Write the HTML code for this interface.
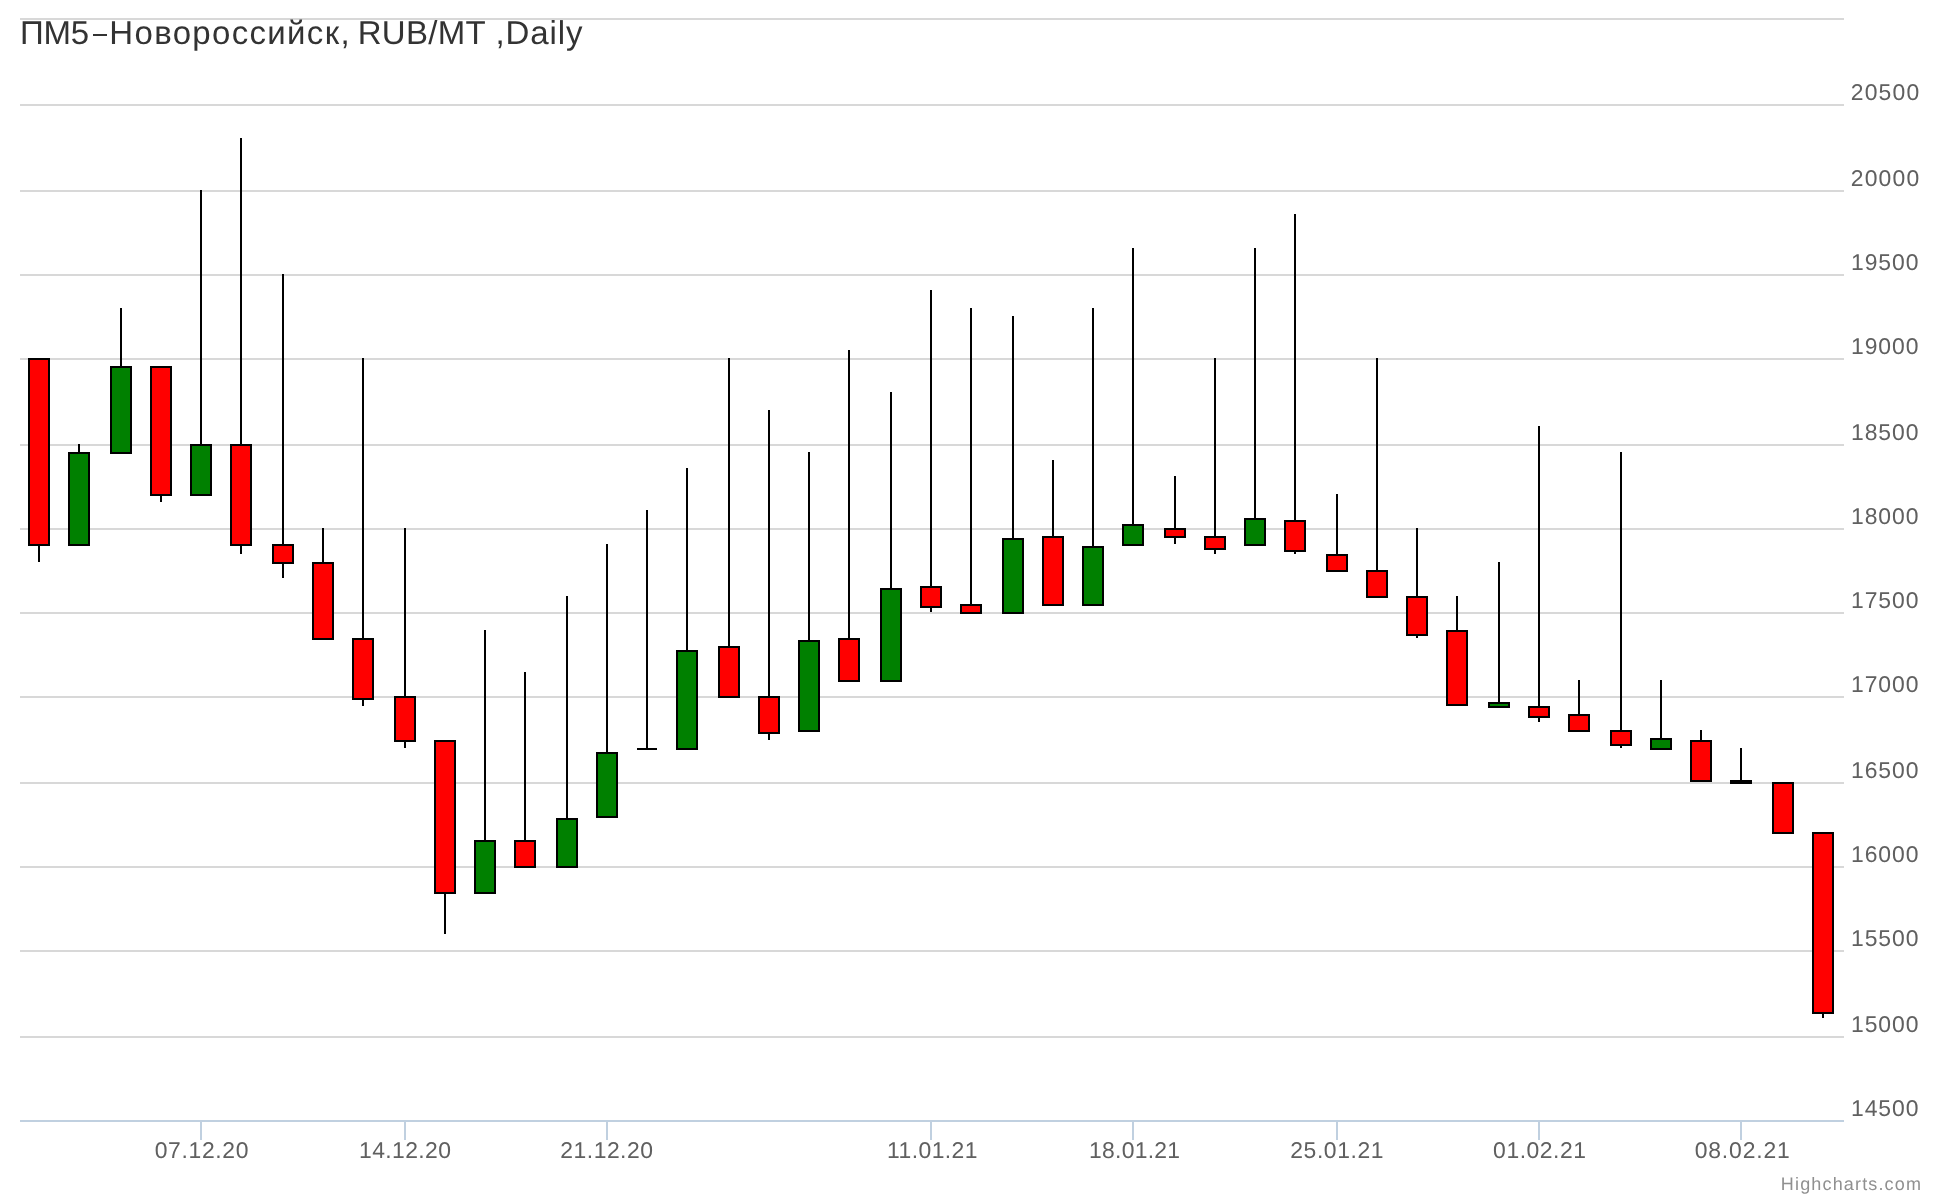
<!DOCTYPE html>
<html><head><meta charset="utf-8"><title>ПМ5-Новороссийск, RUB/MT ,Daily</title>
<style>
html,body{margin:0;padding:0;background:#fff;width:1940px;height:1200px;overflow:hidden}
svg{display:block}
text{font-family:"Liberation Sans",sans-serif;text-rendering:geometricPrecision}
</style></head><body>
<svg width="1940" height="1200" viewBox="0 0 1940 1200" shape-rendering="crispEdges">
<rect x="0" y="0" width="1940" height="1200" fill="#ffffff"/>
<rect x="20" y="18" width="1824" height="2" fill="#d8d8d8"/>
<rect x="20" y="104" width="1824" height="2" fill="#d8d8d8"/>
<rect x="20" y="190" width="1824" height="2" fill="#d8d8d8"/>
<rect x="20" y="274" width="1824" height="2" fill="#d8d8d8"/>
<rect x="20" y="358" width="1824" height="2" fill="#d8d8d8"/>
<rect x="20" y="444" width="1824" height="2" fill="#d8d8d8"/>
<rect x="20" y="528" width="1824" height="2" fill="#d8d8d8"/>
<rect x="20" y="612" width="1824" height="2" fill="#d8d8d8"/>
<rect x="20" y="696" width="1824" height="2" fill="#d8d8d8"/>
<rect x="20" y="782" width="1824" height="2" fill="#d8d8d8"/>
<rect x="20" y="866" width="1824" height="2" fill="#d8d8d8"/>
<rect x="20" y="950" width="1824" height="2" fill="#d8d8d8"/>
<rect x="20" y="1036" width="1824" height="2" fill="#d8d8d8"/>
<rect x="20" y="1120" width="1824" height="2" fill="#c0d0e0"/>
<rect x="200" y="1122" width="2" height="18" fill="#c0d0e0"/>
<rect x="404" y="1122" width="2" height="18" fill="#c0d0e0"/>
<rect x="606" y="1122" width="2" height="18" fill="#c0d0e0"/>
<rect x="930" y="1122" width="2" height="18" fill="#c0d0e0"/>
<rect x="1132" y="1122" width="2" height="18" fill="#c0d0e0"/>
<rect x="1336" y="1122" width="2" height="18" fill="#c0d0e0"/>
<rect x="1538" y="1122" width="2" height="18" fill="#c0d0e0"/>
<rect x="1740" y="1122" width="2" height="18" fill="#c0d0e0"/>
<rect x="38" y="358" width="2" height="204" fill="#000"/><rect x="28" y="358" width="22" height="188" fill="#000"/><rect x="30" y="360" width="18" height="184" fill="#ff0000"/>
<rect x="78" y="444" width="2" height="102" fill="#000"/><rect x="68" y="452" width="22" height="94" fill="#000"/><rect x="70" y="454" width="18" height="90" fill="#008000"/>
<rect x="120" y="308" width="2" height="146" fill="#000"/><rect x="110" y="366" width="22" height="88" fill="#000"/><rect x="112" y="368" width="18" height="84" fill="#008000"/>
<rect x="160" y="366" width="2" height="136" fill="#000"/><rect x="150" y="366" width="22" height="130" fill="#000"/><rect x="152" y="368" width="18" height="126" fill="#ff0000"/>
<rect x="200" y="190" width="2" height="306" fill="#000"/><rect x="190" y="444" width="22" height="52" fill="#000"/><rect x="192" y="446" width="18" height="48" fill="#008000"/>
<rect x="240" y="138" width="2" height="416" fill="#000"/><rect x="230" y="444" width="22" height="102" fill="#000"/><rect x="232" y="446" width="18" height="98" fill="#ff0000"/>
<rect x="282" y="274" width="2" height="304" fill="#000"/><rect x="272" y="544" width="22" height="20" fill="#000"/><rect x="274" y="546" width="18" height="16" fill="#ff0000"/>
<rect x="322" y="528" width="2" height="112" fill="#000"/><rect x="312" y="562" width="22" height="78" fill="#000"/><rect x="314" y="564" width="18" height="74" fill="#ff0000"/>
<rect x="362" y="358" width="2" height="348" fill="#000"/><rect x="352" y="638" width="22" height="62" fill="#000"/><rect x="354" y="640" width="18" height="58" fill="#ff0000"/>
<rect x="404" y="528" width="2" height="220" fill="#000"/><rect x="394" y="696" width="22" height="46" fill="#000"/><rect x="396" y="698" width="18" height="42" fill="#ff0000"/>
<rect x="444" y="740" width="2" height="194" fill="#000"/><rect x="434" y="740" width="22" height="154" fill="#000"/><rect x="436" y="742" width="18" height="150" fill="#ff0000"/>
<rect x="484" y="630" width="2" height="264" fill="#000"/><rect x="474" y="840" width="22" height="54" fill="#000"/><rect x="476" y="842" width="18" height="50" fill="#008000"/>
<rect x="524" y="672" width="2" height="196" fill="#000"/><rect x="514" y="840" width="22" height="28" fill="#000"/><rect x="516" y="842" width="18" height="24" fill="#ff0000"/>
<rect x="566" y="596" width="2" height="272" fill="#000"/><rect x="556" y="818" width="22" height="50" fill="#000"/><rect x="558" y="820" width="18" height="46" fill="#008000"/>
<rect x="606" y="544" width="2" height="274" fill="#000"/><rect x="596" y="752" width="22" height="66" fill="#000"/><rect x="598" y="754" width="18" height="62" fill="#008000"/>
<rect x="646" y="510" width="2" height="240" fill="#000"/><rect x="637" y="748" width="20" height="2" fill="#000"/>
<rect x="686" y="468" width="2" height="282" fill="#000"/><rect x="676" y="650" width="22" height="100" fill="#000"/><rect x="678" y="652" width="18" height="96" fill="#008000"/>
<rect x="728" y="358" width="2" height="340" fill="#000"/><rect x="718" y="646" width="22" height="52" fill="#000"/><rect x="720" y="648" width="18" height="48" fill="#ff0000"/>
<rect x="768" y="410" width="2" height="330" fill="#000"/><rect x="758" y="696" width="22" height="38" fill="#000"/><rect x="760" y="698" width="18" height="34" fill="#ff0000"/>
<rect x="808" y="452" width="2" height="280" fill="#000"/><rect x="798" y="640" width="22" height="92" fill="#000"/><rect x="800" y="642" width="18" height="88" fill="#008000"/>
<rect x="848" y="350" width="2" height="332" fill="#000"/><rect x="838" y="638" width="22" height="44" fill="#000"/><rect x="840" y="640" width="18" height="40" fill="#ff0000"/>
<rect x="890" y="392" width="2" height="290" fill="#000"/><rect x="880" y="588" width="22" height="94" fill="#000"/><rect x="882" y="590" width="18" height="90" fill="#008000"/>
<rect x="930" y="290" width="2" height="322" fill="#000"/><rect x="920" y="586" width="22" height="22" fill="#000"/><rect x="922" y="588" width="18" height="18" fill="#ff0000"/>
<rect x="970" y="308" width="2" height="306" fill="#000"/><rect x="960" y="604" width="22" height="10" fill="#000"/><rect x="962" y="606" width="18" height="6" fill="#ff0000"/>
<rect x="1012" y="316" width="2" height="298" fill="#000"/><rect x="1002" y="538" width="22" height="76" fill="#000"/><rect x="1004" y="540" width="18" height="72" fill="#008000"/>
<rect x="1052" y="460" width="2" height="146" fill="#000"/><rect x="1042" y="536" width="22" height="70" fill="#000"/><rect x="1044" y="538" width="18" height="66" fill="#ff0000"/>
<rect x="1092" y="308" width="2" height="298" fill="#000"/><rect x="1082" y="546" width="22" height="60" fill="#000"/><rect x="1084" y="548" width="18" height="56" fill="#008000"/>
<rect x="1132" y="248" width="2" height="298" fill="#000"/><rect x="1122" y="524" width="22" height="22" fill="#000"/><rect x="1124" y="526" width="18" height="18" fill="#008000"/>
<rect x="1174" y="476" width="2" height="68" fill="#000"/><rect x="1164" y="528" width="22" height="10" fill="#000"/><rect x="1166" y="530" width="18" height="6" fill="#ff0000"/>
<rect x="1214" y="358" width="2" height="196" fill="#000"/><rect x="1204" y="536" width="22" height="14" fill="#000"/><rect x="1206" y="538" width="18" height="10" fill="#ff0000"/>
<rect x="1254" y="248" width="2" height="298" fill="#000"/><rect x="1244" y="518" width="22" height="28" fill="#000"/><rect x="1246" y="520" width="18" height="24" fill="#008000"/>
<rect x="1294" y="214" width="2" height="340" fill="#000"/><rect x="1284" y="520" width="22" height="32" fill="#000"/><rect x="1286" y="522" width="18" height="28" fill="#ff0000"/>
<rect x="1336" y="494" width="2" height="78" fill="#000"/><rect x="1326" y="554" width="22" height="18" fill="#000"/><rect x="1328" y="556" width="18" height="14" fill="#ff0000"/>
<rect x="1376" y="358" width="2" height="240" fill="#000"/><rect x="1366" y="570" width="22" height="28" fill="#000"/><rect x="1368" y="572" width="18" height="24" fill="#ff0000"/>
<rect x="1416" y="528" width="2" height="110" fill="#000"/><rect x="1406" y="596" width="22" height="40" fill="#000"/><rect x="1408" y="598" width="18" height="36" fill="#ff0000"/>
<rect x="1456" y="596" width="2" height="110" fill="#000"/><rect x="1446" y="630" width="22" height="76" fill="#000"/><rect x="1448" y="632" width="18" height="72" fill="#ff0000"/>
<rect x="1498" y="562" width="2" height="146" fill="#000"/><rect x="1488" y="702" width="22" height="6" fill="#000"/><rect x="1490" y="704" width="18" height="2" fill="#008000"/>
<rect x="1538" y="426" width="2" height="296" fill="#000"/><rect x="1528" y="706" width="22" height="12" fill="#000"/><rect x="1530" y="708" width="18" height="8" fill="#ff0000"/>
<rect x="1578" y="680" width="2" height="52" fill="#000"/><rect x="1568" y="714" width="22" height="18" fill="#000"/><rect x="1570" y="716" width="18" height="14" fill="#ff0000"/>
<rect x="1620" y="452" width="2" height="296" fill="#000"/><rect x="1610" y="730" width="22" height="16" fill="#000"/><rect x="1612" y="732" width="18" height="12" fill="#ff0000"/>
<rect x="1660" y="680" width="2" height="70" fill="#000"/><rect x="1650" y="738" width="22" height="12" fill="#000"/><rect x="1652" y="740" width="18" height="8" fill="#008000"/>
<rect x="1700" y="730" width="2" height="52" fill="#000"/><rect x="1690" y="740" width="22" height="42" fill="#000"/><rect x="1692" y="742" width="18" height="38" fill="#ff0000"/>
<rect x="1740" y="748" width="2" height="36" fill="#000"/><rect x="1730" y="780" width="22" height="4" fill="#000"/>
<rect x="1782" y="782" width="2" height="52" fill="#000"/><rect x="1772" y="782" width="22" height="52" fill="#000"/><rect x="1774" y="784" width="18" height="48" fill="#ff0000"/>
<rect x="1822" y="832" width="2" height="186" fill="#000"/><rect x="1812" y="832" width="22" height="182" fill="#000"/><rect x="1814" y="834" width="18" height="178" fill="#ff0000"/>
<g shape-rendering="auto" style="will-change:transform">
<text x="20.00" y="44" font-size="33" fill="#333333" textLength="69.08" lengthAdjust="spacing">ПМ5</text>
<text x="109.33" y="44" font-size="33" fill="#333333" textLength="240.25" lengthAdjust="spacing">Новороссийск,</text>
<text x="357.66" y="44" font-size="33" fill="#333333" textLength="128.01" lengthAdjust="spacing">RUB/MT</text>
<text x="495.55" y="44" font-size="33" fill="#333333" textLength="87.03" lengthAdjust="spacing">,Daily</text>
<text x="1850.70" y="100" font-size="22.9" fill="#606060" textLength="68.51" lengthAdjust="spacing">20500</text>
<text x="1850.70" y="186" font-size="22.9" fill="#606060" textLength="68.51" lengthAdjust="spacing">20000</text>
<text x="1851.08" y="270" font-size="22.9" fill="#606060" textLength="67.32" lengthAdjust="spacing">19500</text>
<text x="1851.08" y="354" font-size="22.9" fill="#606060" textLength="67.32" lengthAdjust="spacing">19000</text>
<text x="1851.08" y="440" font-size="22.9" fill="#606060" textLength="67.32" lengthAdjust="spacing">18500</text>
<text x="1851.08" y="524" font-size="22.9" fill="#606060" textLength="67.32" lengthAdjust="spacing">18000</text>
<text x="1851.08" y="608" font-size="22.9" fill="#606060" textLength="67.32" lengthAdjust="spacing">17500</text>
<text x="1851.08" y="692" font-size="22.9" fill="#606060" textLength="67.32" lengthAdjust="spacing">17000</text>
<text x="1851.08" y="778" font-size="22.9" fill="#606060" textLength="67.32" lengthAdjust="spacing">16500</text>
<text x="1851.08" y="862" font-size="22.9" fill="#606060" textLength="67.32" lengthAdjust="spacing">16000</text>
<text x="1851.08" y="946" font-size="22.9" fill="#606060" textLength="67.32" lengthAdjust="spacing">15500</text>
<text x="1851.08" y="1032" font-size="22.9" fill="#606060" textLength="67.32" lengthAdjust="spacing">15000</text>
<text x="1851.08" y="1116" font-size="22.9" fill="#606060" textLength="67.32" lengthAdjust="spacing">14500</text>
<text x="154.72" y="1158" font-size="22.9" fill="#606060" textLength="93.71" lengthAdjust="spacing">07.12.20</text>
<text x="359.08" y="1158" font-size="22.9" fill="#606060" textLength="91.89" lengthAdjust="spacing">14.12.20</text>
<text x="560.28" y="1158" font-size="22.9" fill="#606060" textLength="92.69" lengthAdjust="spacing">21.12.20</text>
<text x="887.08" y="1158" font-size="22.9" fill="#606060" textLength="90.42" lengthAdjust="spacing">11.01.21</text>
<text x="1089.08" y="1158" font-size="22.9" fill="#606060" textLength="90.95" lengthAdjust="spacing">18.01.21</text>
<text x="1290.28" y="1158" font-size="22.9" fill="#606060" textLength="93.22" lengthAdjust="spacing">25.01.21</text>
<text x="1493.12" y="1158" font-size="22.9" fill="#606060" textLength="92.92" lengthAdjust="spacing">01.02.21</text>
<text x="1694.69" y="1158" font-size="22.9" fill="#606060" textLength="95.09" lengthAdjust="spacing">08.02.21</text>
<text x="1780.86" y="1190" font-size="18" fill="#909090" textLength="140.07" lengthAdjust="spacing">Highcharts.com</text>
<rect x="93" y="34" width="14" height="2" fill="#333333"/>
</g>
</svg>
</body></html>
